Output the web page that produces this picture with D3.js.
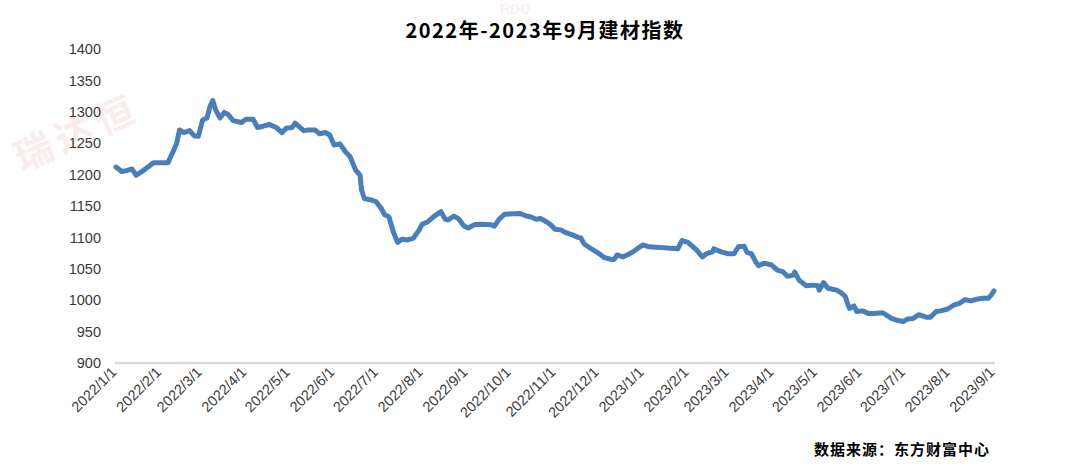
<!DOCTYPE html>
<html>
<head>
<meta charset="utf-8">
<script src="https://cdn.jsdelivr.net/npm/d3@7/dist/d3.min.js"></script>
<style>
html,body{margin:0;padding:0;background:#fff;}
svg{display:block;}
</style>
</head>
<body>
<svg id="chart" width="1080" height="468"></svg>
<script>
// ---- data ----
const titleText = "2022年-2023年9月建材指数";
const sourceText = "数据来源：东方财富中心";
const yTicks = [900, 950, 1000, 1050, 1100, 1150, 1200, 1250, 1300, 1350, 1400];
const monthTicks = ["2022-01-01","2022-02-01","2022-03-01","2022-04-01","2022-05-01","2022-06-01",
  "2022-07-01","2022-08-01","2022-09-01","2022-10-01","2022-11-01","2022-12-01",
  "2023-01-01","2023-02-01","2023-03-01","2023-04-01","2023-05-01","2023-06-01",
  "2023-07-01","2023-08-01","2023-09-01"];
const dates = [
 "2022-01-01","2022-01-05","2022-01-08","2022-01-12","2022-01-15","2022-01-19","2022-01-22","2022-01-27",
 "2022-02-06","2022-02-10","2022-02-12","2022-02-14","2022-02-17","2022-02-21","2022-02-24","2022-02-27",
 "2022-03-02","2022-03-05","2022-03-07","2022-03-09","2022-03-11","2022-03-14","2022-03-17","2022-03-20",
 "2022-03-23","2022-03-29","2022-04-01","2022-04-06","2022-04-09","2022-04-13","2022-04-17","2022-04-22",
 "2022-04-26","2022-04-29","2022-05-03","2022-05-05","2022-05-08","2022-05-11","2022-05-14","2022-05-19",
 "2022-05-22","2022-05-26","2022-05-29","2022-06-01","2022-06-05","2022-06-09","2022-06-12","2022-06-16",
 "2022-06-19","2022-06-20","2022-06-22","2022-06-26","2022-06-30","2022-07-04","2022-07-06","2022-07-09",
 "2022-07-12","2022-07-15","2022-07-18","2022-07-22","2022-07-26","2022-07-30","2022-08-01","2022-08-05",
 "2022-08-09","2022-08-14","2022-08-17","2022-08-19","2022-08-23","2022-08-26","2022-08-30","2022-09-02",
 "2022-09-06","2022-09-10","2022-09-18","2022-09-20","2022-09-23","2022-09-27","2022-10-08","2022-10-12",
 "2022-10-15","2022-10-19","2022-10-22","2022-10-26","2022-10-29","2022-11-01","2022-11-05","2022-11-08",
 "2022-11-13","2022-11-17","2022-11-19","2022-11-21","2022-11-26","2022-12-01","2022-12-05","2022-12-10",
 "2022-12-12","2022-12-14","2022-12-18","2022-12-21","2022-12-25","2022-12-28","2023-01-01","2023-01-05",
 "2023-01-13","2023-01-25","2023-01-28","2023-02-01","2023-02-02","2023-02-07","2023-02-11","2023-02-14",
 "2023-02-18","2023-02-19","2023-02-24","2023-03-01","2023-03-05","2023-03-08","2023-03-12","2023-03-14",
 "2023-03-17","2023-03-20","2023-03-22","2023-03-26","2023-03-31","2023-04-04","2023-04-08","2023-04-11",
 "2023-04-15","2023-04-16","2023-04-19","2023-04-24","2023-04-29","2023-05-02","2023-05-03","2023-05-06",
 "2023-05-09","2023-05-13","2023-05-15","2023-05-18","2023-05-21","2023-05-23","2023-05-24","2023-05-27",
 "2023-05-29","2023-06-02","2023-06-06","2023-06-10","2023-06-16","2023-06-18","2023-06-22","2023-06-26",
 "2023-06-30","2023-07-03","2023-07-07","2023-07-11","2023-07-16","2023-07-19","2023-07-23","2023-07-26",
 "2023-07-31","2023-08-04","2023-08-08","2023-08-12","2023-08-16","2023-08-19","2023-08-24","2023-08-28",
 "2023-08-30","2023-09-01"];
const values = [
 1212,1205,1206,1209,1199,1205,1210,1219,
 1219,1239,1250,1271,1267,1270,1262,1261,
 1287,1290,1308,1318,1303,1290,1299,1295,
 1286,1283,1288,1288,1275,1277,1280,1275,
 1267,1274,1275,1282,1276,1270,1271,1271,
 1265,1267,1263,1247,1249,1236,1229,1207,
 1199,1176,1162,1160,1157,1145,1136,1133,
 1109,1092,1097,1096,1099,1112,1121,1125,
 1133,1141,1129,1128,1134,1130,1118,1115,
 1120,1121,1120,1118,1128,1137,1138,1134,
 1133,1129,1130,1125,1120,1113,1112,1108,
 1104,1100,1099,1090,1082,1075,1068,1065,
 1065,1072,1069,1072,1077,1082,1088,1085,
 1084,1082,1095,1092,1090,1080,1069,1074,
 1077,1082,1077,1074,1074,1085,1086,1076,
 1074,1061,1055,1059,1056,1048,1045,1038,
 1040,1045,1032,1023,1024,1023,1016,1028,
 1019,1017,1016,1012,1006,992,987,991,
 982,983,979,979,980,977,971,968,
 966,970,971,977,973,973,982,983,
 986,992,995,1001,999,1001,1003,1003,
 1008,1015];

// ---- drawing ----
const parse = d3.timeParse("%Y-%m-%d");
const series = dates.map((d, i) => ({date: parse(d), value: values[i]}));
const svg = d3.select("#chart");

// watermark (faint)
svg.append("text")
  .attr("transform", "translate(22,172) rotate(-24)")
  .attr("font-family", "Noto Sans CJK SC")
  .attr("font-weight", "bold")
  .attr("font-size", 38)
  .attr("fill", "#e7a3a3")
  .attr("opacity", 0.2)
  .attr("letter-spacing", 6)
  .text("瑞达恒");
svg.append("text")
  .attr("x", 500).attr("y", 14)
  .attr("font-family", "Liberation Sans")
  .attr("font-weight", "bold")
  .attr("font-size", 14)
  .attr("fill", "#e7a3a3")
  .attr("opacity", 0.16)
  .text("RDO");

const x = d3.scaleTime()
  .domain([parse(monthTicks[0]), parse(monthTicks[monthTicks.length - 1])])
  .range([116, 994]);
const y = d3.scaleLinear().domain([900, 1400]).range([363, 49]);

// title
svg.append("text")
  .attr("x", 545).attr("y", 38)
  .attr("text-anchor", "middle")
  .attr("font-family", "Noto Sans CJK SC")
  .attr("font-weight", "bold")
  .attr("font-size", 20)
  .attr("letter-spacing", 1.5)
  .attr("fill", "#000")
  .text(titleText);

// y axis labels (no axis line)
const yAxis = d3.axisLeft(y).tickValues(yTicks).tickFormat(d3.format("d")).tickSize(0).tickPadding(0);
const gy = svg.append("g").attr("transform", "translate(101,0)").call(yAxis);
gy.select(".domain").remove();
gy.selectAll("text")
  .attr("font-family", "Liberation Sans")
  .attr("font-size", 14.5)
  .attr("fill", "#3a3a3a");

// x axis
const xAxis = d3.axisBottom(x)
  .tickValues(monthTicks.map(parse))
  .tickFormat(d3.timeFormat("%Y/%-m/%-d"))
  .tickSize(0);
const gx = svg.append("g").attr("transform", "translate(0,363)").call(xAxis);
gx.select(".domain").attr("stroke", "#d9d9d9").attr("stroke-width", 2.5)
  .attr("d", "M115,0H995");
gx.selectAll("text")
  .attr("font-family", "Liberation Sans")
  .attr("font-size", 14.5)
  .attr("fill", "#3a3a3a")
  .attr("text-anchor", "end")
  .attr("y", 0).attr("dy", 0)
  .attr("transform", "translate(1,10) rotate(-45)");

// line
const line = d3.line().x(d => x(d.date)).y(d => y(d.value));
svg.append("path")
  .datum(series)
  .attr("fill", "none")
  .attr("stroke", "#4a7ebb")
  .attr("stroke-width", 5)
  .attr("stroke-linejoin", "round")
  .attr("stroke-linecap", "round")
  .attr("d", line);

// source
svg.append("text")
  .attr("x", 990).attr("y", 455)
  .attr("text-anchor", "end")
  .attr("font-family", "Noto Sans CJK SC")
  .attr("font-weight", "bold")
  .attr("font-size", 15)
  .attr("letter-spacing", 1)
  .attr("fill", "#000")
  .text(sourceText);
</script>
</body>
</html>
